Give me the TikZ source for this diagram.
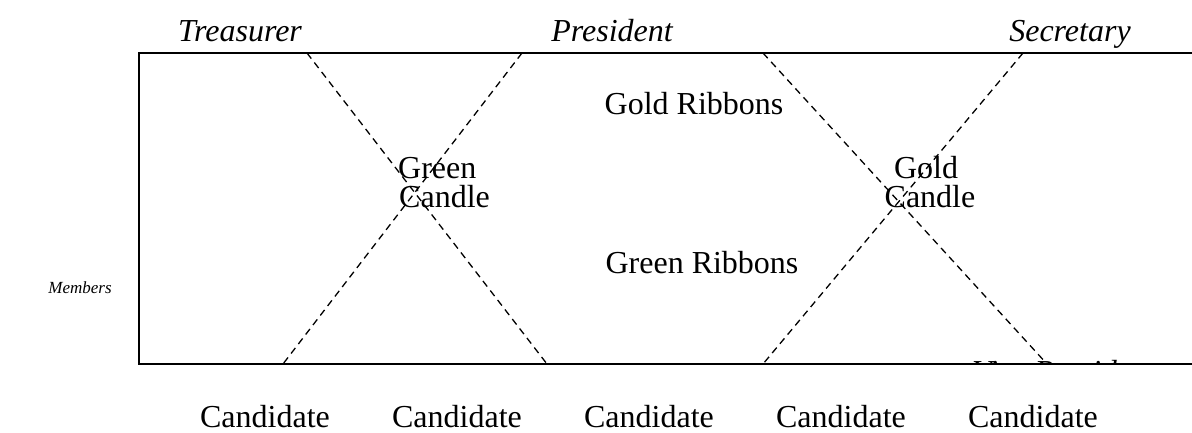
\documentclass[tikz,border=0pt]{standalone}
\usepackage{fontspec}
\setmainfont{Liberation Serif}
\begin{document}
\begin{tikzpicture}[x=1pt,y=-1pt,
  big/.style={font=\fontsize{32}{30}\selectfont, inner sep=0pt, anchor=base},
  role/.style={font=\fontsize{32}{30}\selectfont\itshape, inner sep=0pt, anchor=base},
  frame/.style={line width=1.5pt},
  cross/.style={line width=1.3pt, dash pattern=on 7pt off 5pt}]
\useasboundingbox (0,0) rectangle (1192,432);
% frame
\coordinate (tl) at (139,53);
\coordinate (tr) at (1192,53);
\coordinate (bl) at (139,364);
\coordinate (br) at (1192,364);
\draw[frame] (tr) -- (tl) -- (bl) -- (br);
% dashed crosses
\coordinate (a1) at (307,53); \coordinate (a2) at (547,364);
\coordinate (b1) at (522,53); \coordinate (b2) at (283,364);
\coordinate (c1) at (763,53); \coordinate (c2) at (1047,364);
\coordinate (d1) at (1023,53); \coordinate (d2) at (763,364);
\draw[cross] (a1) -- (a2);
\draw[cross] (b1) -- (b2);
\draw[cross] (c1) -- (c2);
\draw[cross] (d1) -- (d2);
% roles
\node[role] (treas) at (240,41) {Treasurer};
\node[role] (pres) at (612,41) {President};
\node[role] (sec) at (1070,41) {Secretary};
\node[font=\fontsize{17}{20}\selectfont\itshape, inner sep=0pt, anchor=base] (mem) at (80,293) {Members};
% inner texts
\node[big] (goldr) at (694,114) {Gold Ribbons};
\node[big] (greenr) at (702,273) {Green Ribbons};
\node[big, anchor=base west] (greenc1) at (398,178) {Green};
\node[big, anchor=base west] (greenc2) at (399,207) {Candle};
\node[big] (goldc1) at (926,178) {Gold};
\node[big] (goldc2) at (930,207) {Candle};
% clipped Vice President
\begin{scope}
\clip (900,330) rectangle (1192,364);
\node[role] (vp) at (1064,382) {Vice President};
\end{scope}
% candidates
\node[big] (c1n) at (265,427) {Candidate};
\node[big] (c2n) at (457,427) {Candidate};
\node[big] (c3n) at (649,427) {Candidate};
\node[big] (c4n) at (841,427) {Candidate};
\node[big] (c5n) at (1033,427) {Candidate};
\end{tikzpicture}
\end{document}
